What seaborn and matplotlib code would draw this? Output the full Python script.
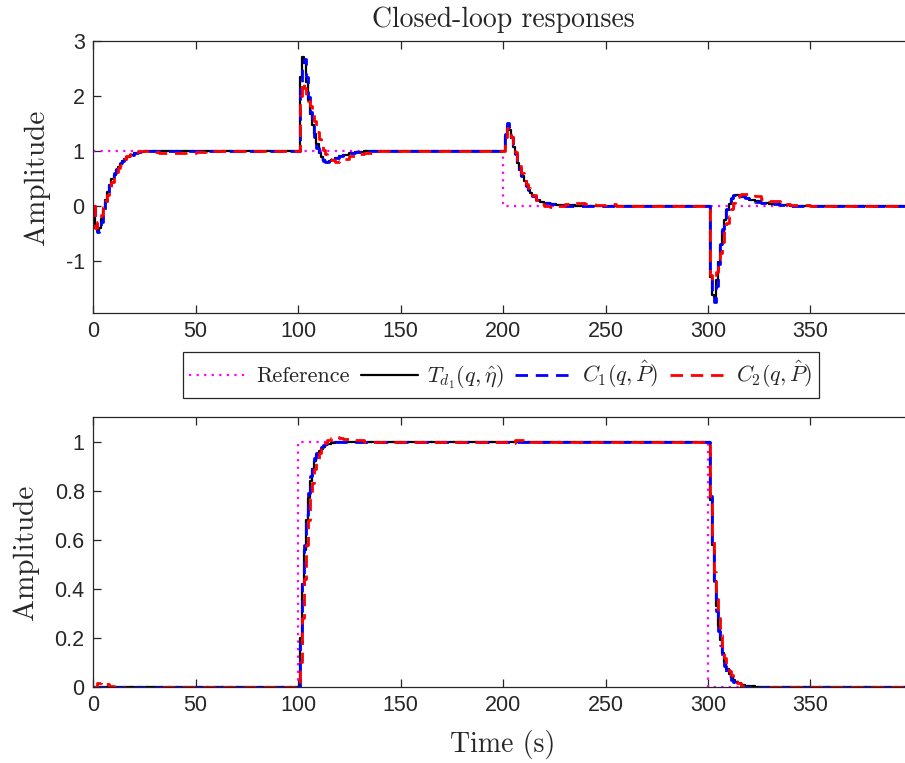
import numpy as np
import pandas as pd
import matplotlib
matplotlib.use("Agg")
import matplotlib.pyplot as plt
import seaborn as sns

# ---------------- data ----------------
top_t = [0, 1, 2, 3, 4, 5, 6, 7, 8, 9, 10, 11, 12, 13, 14, 15, 16, 18, 20, 22, 25, 28, 32, 36, 40, 45, 50, 55, 60,
         100, 101, 102, 103, 104, 105, 106, 107, 108, 109, 110, 111, 112, 113, 114, 115, 116, 118, 120, 122, 125, 128, 132, 136, 140,
         200, 201, 202, 203, 204, 205, 206, 207, 208, 209, 210, 211, 212, 213, 214, 216, 218, 220, 223, 226, 230, 235, 240, 245, 250, 255,
         300, 301, 302, 303, 304, 305, 306, 307, 308, 309, 310, 311, 312, 313, 314, 315, 316, 318, 320, 323, 326, 330, 335, 340, 350, 400]

top_T = [0, -0.40, -0.45, -0.40, -0.24, -0.06, 0.10, 0.25, 0.38, 0.48, 0.57, 0.65, 0.71, 0.76, 0.81, 0.85, 0.88, 0.93, 0.96, 0.975, 0.99, 0.995, 1.0, 1.0, 1.0, 1.0, 1.0, 1.0, 1.0,
         1.0, 2.35, 2.70, 2.60, 2.25, 1.93, 1.68, 1.48, 1.30, 1.12, 0.97, 0.88, 0.83, 0.80, 0.80, 0.81, 0.83, 0.87, 0.90, 0.93, 0.96, 0.98, 0.99, 1.0, 1.0,
         1.0, 1.28, 1.45, 1.38, 1.24, 1.08, 0.94, 0.78, 0.66, 0.55, 0.45, 0.37, 0.29, 0.23, 0.18, 0.11, 0.07, 0.05, 0.03, 0.015, 0.01, 0.0, 0.0, 0.0, 0.0, 0.0,
         0.0, -1.30, -1.62, -1.65, -1.35, -1.02, -0.72, -0.45, -0.25, -0.08, 0.04, 0.13, 0.18, 0.20, 0.20, 0.19, 0.17, 0.14, 0.11, 0.08, 0.05, 0.03, 0.015, 0.005, 0.0, 0.0]

top_C1 = [0, -0.35, -0.48, -0.46, -0.30, -0.10, 0.08, 0.24, 0.38, 0.50, 0.59, 0.67, 0.73, 0.78, 0.82, 0.86, 0.89, 0.93, 0.96, 0.98, 0.99, 1.0, 1.0, 1.0, 1.0, 1.0, 1.0, 1.0, 1.0,
          1.0, 2.25, 2.62, 2.68, 2.35, 1.98, 1.70, 1.45, 1.25, 1.05, 0.92, 0.85, 0.81, 0.80, 0.80, 0.82, 0.84, 0.87, 0.90, 0.93, 0.96, 0.98, 0.99, 1.0, 1.0,
          1.0, 1.30, 1.50, 1.42, 1.26, 1.10, 0.95, 0.80, 0.67, 0.55, 0.45, 0.36, 0.29, 0.23, 0.18, 0.11, 0.07, 0.05, 0.03, 0.01, 0.0, 0.0, 0.0, 0.0, 0.0, 0.0,
          0.0, -1.25, -1.55, -1.75, -1.45, -1.05, -0.70, -0.42, -0.22, -0.05, 0.06, 0.14, 0.19, 0.21, 0.21, 0.20, 0.18, 0.14, 0.11, 0.07, 0.05, 0.03, 0.01, 0.0, 0.0, 0.0]

top_C2 = [0, -0.40, -0.30, -0.28, -0.16, -0.02, 0.08, 0.20, 0.32, 0.44, 0.54, 0.62, 0.69, 0.75, 0.80, 0.86, 0.90, 0.95, 0.98, 0.99, 0.99, 0.98, 0.965, 0.965, 0.97, 0.965, 0.975, 0.99, 1.0,
          1.0, 2.00, 2.25, 2.15, 2.00, 1.90, 1.82, 1.70, 1.55, 1.35, 1.22, 1.10, 1.02, 0.95, 0.90, 0.86, 0.83, 0.80, 0.81, 0.85, 0.90, 0.94, 0.97, 0.99, 1.0,
          1.0, 1.25, 1.42, 1.38, 1.26, 1.12, 0.98, 0.84, 0.72, 0.60, 0.50, 0.40, 0.32, 0.25, 0.19, 0.10, 0.03, -0.01, -0.02, 0.0, 0.03, 0.05, 0.04, 0.02, 0.03, 0.0,
          0.0, -1.25, -1.35, -1.30, -1.20, -1.00, -0.85, -0.65, -0.45, -0.32, -0.18, -0.05, 0.06, 0.13, 0.17, 0.20, 0.21, 0.22, 0.21, 0.18, 0.13, 0.08, 0.03, 0.01, 0.0, 0.0]

ref_top_t = [0, 200, 400]
ref_top = [1, 0, 0]

bot_t = [0, 2, 4, 6, 8, 10, 15, 20, 25, 30, 40, 60,
         100, 101, 102, 103, 104, 105, 106, 107, 108, 109, 110, 111, 112, 113, 114, 116, 118, 120, 122, 125, 128, 132, 140,
         195, 200, 203, 206, 210, 215,
         300, 301, 302, 303, 304, 305, 306, 307, 308, 309, 310, 311, 312, 313, 314, 316, 318, 320, 323, 326, 330, 335, 340, 400]

bot_T = [0, 0, 0, 0, 0, 0, 0, 0, 0, 0, 0, 0,
         0, 0.20, 0.42, 0.56, 0.68, 0.77, 0.84, 0.89, 0.92, 0.945, 0.96, 0.97, 0.978, 0.985, 0.99, 0.994, 0.997, 1.0, 1.0, 1.0, 1.0, 1.0, 1.0,
         1.0, 1.0, 1.0, 1.0, 1.0, 1.0,
         1.0, 0.76, 0.58, 0.43, 0.33, 0.25, 0.19, 0.14, 0.10, 0.075, 0.055, 0.04, 0.03, 0.02, 0.015, 0.009, 0.005, 0.003, 0.001, 0, 0, 0, 0, 0]

bot_C1 = [0, 0, 0, 0, 0, 0, 0, 0, 0, 0, 0, 0,
          0, 0.18, 0.42, 0.58, 0.70, 0.79, 0.86, 0.905, 0.935, 0.955, 0.968, 0.977, 0.984, 0.99, 0.993, 0.996, 0.998, 1.0, 1.0, 1.0, 1.0, 1.0, 1.0,
          1.0, 1.0, 1.0, 1.0, 1.0, 1.0,
          1.0, 0.78, 0.57, 0.42, 0.31, 0.23, 0.17, 0.12, 0.085, 0.06, 0.045, 0.03, 0.02, 0.015, 0.01, 0.005, 0.002, 0, 0, 0, 0, 0, 0, 0]

bot_C2 = [0, 0.015, 0.02, 0.012, 0.005, 0, -0.003, -0.005, -0.004, -0.002, 0, 0,
          0, 0.10, 0.28, 0.44, 0.58, 0.68, 0.77, 0.83, 0.89, 0.93, 0.955, 0.97, 0.985, 0.995, 1.005, 1.015, 1.02, 1.015, 1.01, 1.005, 1.005, 1.0, 1.0,
          1.0, 1.0, 0.995, 1.005, 1.0, 1.0,
          1.0, 0.78, 0.60, 0.47, 0.36, 0.28, 0.21, 0.16, 0.12, 0.09, 0.065, 0.05, 0.035, 0.025, 0.015, 0.005, 0.0, -0.003, -0.005, -0.004, -0.002, 0, 0, 0]

ref_bot_t = [0, 100, 300, 400]
ref_bot = [0, 1, 0, 0]

legend_labels = ["Reference", r"$T_{d_1}(q,\hat{\eta})$", r"$C_1(q,\hat{P})$", r"$C_2(q,\hat{P})$"]
x_ticks = [0, 50, 100, 150, 200, 250, 300, 350]
top_yticks = [-1, 0, 1, 2, 3]
bot_yticks = [0, 0.2, 0.4, 0.6, 0.8, 1]

# ---------------- style ----------------
sns.set_theme(style="ticks")
plt.rcParams["font.family"] = ["Liberation Sans", "DejaVu Sans"]
plt.rcParams["mathtext.fontset"] = "cm"
plt.rcParams["axes.unicode_minus"] = False
plt.rcParams["axes.edgecolor"] = "#262626"
plt.rcParams["xtick.color"] = "#262626"
plt.rcParams["ytick.color"] = "#262626"

SERIF = "cmr10"
W, H = 905, 763
fig = plt.figure(figsize=(W / 100, H / 100), dpi=100)

def fx(px):
    return px / W

def fy(py):
    return 1 - py / H

ax1 = fig.add_axes([fx(93), fy(313), fx(913) - fx(93), fy(41) - fy(313)])
ax2 = fig.add_axes([fx(93), fy(687), fx(913) - fx(93), fy(417) - fy(687)])

styles = [
    dict(color=(1, 0, 1), lw=1.6, linestyle=(0, (1, 2.4))),
    dict(color="black", lw=1.6, linestyle="-"),
    dict(color=(0, 0, 1), lw=2.0, linestyle=(0, (4.5, 2.8))),
    dict(color=(1, 0, 0), lw=2.0, linestyle=(0, (4.5, 2.8))),
]

def draw(ax, rt, rv, t, series):
    sns.lineplot(x=rt, y=rv, ax=ax, drawstyle="steps-post", estimator=None, sort=False,
                 label=legend_labels[0], legend=False, **styles[0])
    for i, s in enumerate(series):
        sns.lineplot(x=t, y=s, ax=ax, drawstyle="steps-post", estimator=None, sort=False,
                     label=legend_labels[i + 1], legend=False, **styles[i + 1])

draw(ax1, ref_top_t, ref_top, top_t, [top_T, top_C1, top_C2])
draw(ax2, ref_bot_t, ref_bot, bot_t, [bot_T, bot_C1, bot_C2])

for ax in (ax1, ax2):
    ax.set_xlim(0, 400)
    ax.set_xticks(x_ticks)
    ax.tick_params(direction="in", length=6, width=0.9, labelsize=15.5, top=True, right=False,
                   labelcolor="#262626", pad=6)
    for s in ax.spines.values():
        s.set_linewidth(0.9)
    ax.set_xlabel("")
    ax.set_ylabel("Amplitude", fontfamily=SERIF, fontsize=21, labelpad=11)

ax1.set_ylim(-1.95, 3)
ax1.set_yticks(top_yticks)
ax1.set_yticklabels([str(v) for v in top_yticks])
ax2.set_ylim(0, 1.1)
ax2.set_yticks(bot_yticks)
ax2.set_yticklabels(["0", "0.2", "0.4", "0.6", "0.8", "1"])

ax1.set_title("Closed-loop responses", fontfamily=SERIF, fontsize=20, pad=10)
ax2.set_xlabel("Time (s)", fontfamily=SERIF, fontsize=20, labelpad=10)

handles, labels = ax1.get_legend_handles_labels()
leg = fig.legend(handles, labels, loc="center", bbox_to_anchor=(fx(501), fy(375)), ncol=4,
                 prop={"family": SERIF, "size": 16}, frameon=True, fancybox=False,
                 edgecolor="#262626", framealpha=1, handlelength=2.6, handletextpad=0.4,
                 columnspacing=0.5, borderpad=0.3, borderaxespad=0)
leg.get_frame().set_linewidth(0.9)

fig.savefig("out.png", dpi=100)
